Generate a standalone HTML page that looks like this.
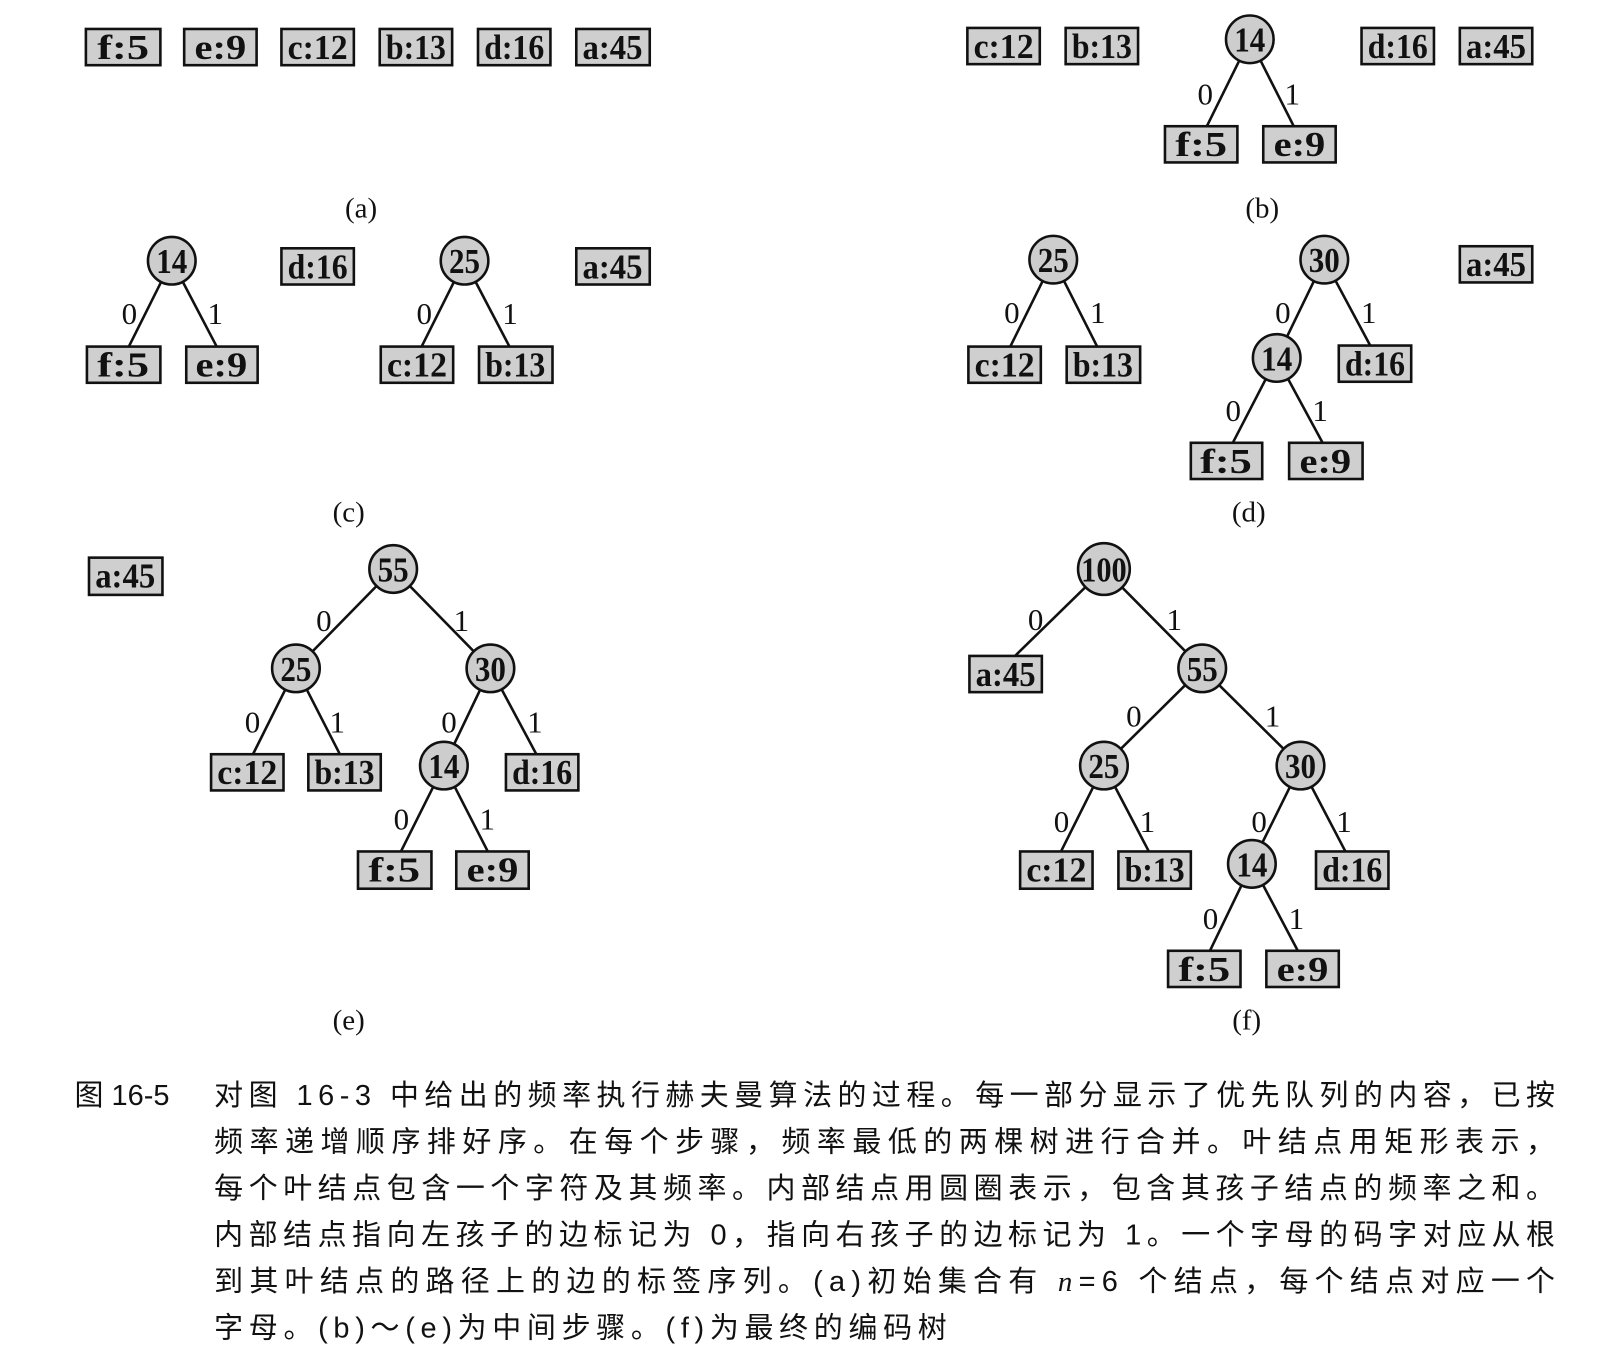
<!DOCTYPE html>
<html><head><meta charset="utf-8"><style>
html,body{margin:0;padding:0;background:#fff;}
svg{display:block;}
.b{fill:#cfcfcf;stroke:#111;stroke-width:2.5;}
.c{fill:#cdcdcd;stroke:#111;stroke-width:2.5;}
.t{font-family:"Liberation Serif",serif;font-size:34px;font-weight:bold;fill:#111;text-anchor:middle;}
.l{font-family:"Liberation Serif",serif;font-size:30px;fill:#111;text-anchor:middle;}
.s{font-family:"Liberation Serif","Noto Serif CJK SC",serif;font-size:28px;fill:#111;text-anchor:middle;}
.e{stroke:#111;stroke-width:2.5;}
.cap{font-family:"Liberation Sans","Noto Sans CJK SC",sans-serif;font-size:28px;fill:#111;}
</style></head><body>
<svg width="1614" height="1358" viewBox="0 0 1560 1312.6" xmlns="http://www.w3.org/2000/svg">
<!-- (a) -->
<rect class="b" x="83" y="28" width="72" height="35"/><text class="t" x="119" y="57" textLength="50" lengthAdjust="spacingAndGlyphs">f:5</text>
<rect class="b" x="178" y="28" width="70" height="35"/><text class="t" x="213" y="57" textLength="50" lengthAdjust="spacingAndGlyphs">e:9</text>
<rect class="b" x="272" y="28" width="70" height="35"/><text class="t" x="307" y="57" textLength="58" lengthAdjust="spacingAndGlyphs">c:12</text>
<rect class="b" x="367" y="28" width="70" height="35"/><text class="t" x="402" y="57" textLength="58" lengthAdjust="spacingAndGlyphs">b:13</text>
<rect class="b" x="462" y="28" width="70" height="35"/><text class="t" x="497" y="57" textLength="58" lengthAdjust="spacingAndGlyphs">d:16</text>
<rect class="b" x="557" y="28" width="71" height="35"/><text class="t" x="592" y="57" textLength="58" lengthAdjust="spacingAndGlyphs">a:45</text>
<text class="s" x="349" y="210">(a)</text>

<!-- (b) -->
<rect class="b" x="935" y="27" width="70" height="35"/><text class="t" x="970" y="56" textLength="58" lengthAdjust="spacingAndGlyphs">c:12</text>
<rect class="b" x="1030" y="27" width="70" height="35"/><text class="t" x="1065" y="56" textLength="58" lengthAdjust="spacingAndGlyphs">b:13</text>
<rect class="b" x="1316" y="27" width="70" height="35"/><text class="t" x="1351" y="56" textLength="58" lengthAdjust="spacingAndGlyphs">d:16</text>
<rect class="b" x="1411" y="27" width="70" height="35"/><text class="t" x="1446" y="56" textLength="58" lengthAdjust="spacingAndGlyphs">a:45</text>
<line class="e" x1="1208" y1="38" x2="1165" y2="125"/><line class="e" x1="1208" y1="38" x2="1252" y2="125"/>
<circle class="c" cx="1208" cy="38" r="23"/><text class="t" x="1208" y="50" textLength="30" lengthAdjust="spacingAndGlyphs">14</text>
<text class="l" x="1165" y="101">0</text><text class="l" x="1249" y="101">1</text>
<rect class="b" x="1126" y="122" width="70" height="35"/><text class="t" x="1161" y="151" textLength="50" lengthAdjust="spacingAndGlyphs">f:5</text>
<rect class="b" x="1221" y="122" width="70" height="35"/><text class="t" x="1256" y="151" textLength="50" lengthAdjust="spacingAndGlyphs">e:9</text>
<text class="s" x="1220" y="210">(b)</text>

<!-- (c) -->
<line class="e" x1="166" y1="252" x2="123" y2="338"/><line class="e" x1="166" y1="252" x2="211" y2="338"/>
<circle class="c" cx="166" cy="252" r="23"/><text class="t" x="166" y="264" textLength="30" lengthAdjust="spacingAndGlyphs">14</text>
<text class="l" x="125" y="313">0</text><text class="l" x="208" y="313">1</text>
<rect class="b" x="84" y="335" width="71" height="35"/><text class="t" x="119" y="364" textLength="50" lengthAdjust="spacingAndGlyphs">f:5</text>
<rect class="b" x="180" y="335" width="69" height="35"/><text class="t" x="214" y="364" textLength="50" lengthAdjust="spacingAndGlyphs">e:9</text>
<rect class="b" x="272" y="240" width="70" height="35"/><text class="t" x="307" y="269" textLength="58" lengthAdjust="spacingAndGlyphs">d:16</text>
<line class="e" x1="449" y1="252" x2="406" y2="338"/><line class="e" x1="449" y1="252" x2="494" y2="338"/>
<circle class="c" cx="449" cy="252" r="23"/><text class="t" x="449" y="264" textLength="30" lengthAdjust="spacingAndGlyphs">25</text>
<text class="l" x="410" y="313">0</text><text class="l" x="493" y="313">1</text>
<rect class="b" x="368" y="335" width="70" height="35"/><text class="t" x="403" y="364" textLength="58" lengthAdjust="spacingAndGlyphs">c:12</text>
<rect class="b" x="463" y="335" width="71" height="35"/><text class="t" x="498" y="364" textLength="58" lengthAdjust="spacingAndGlyphs">b:13</text>
<rect class="b" x="557" y="240" width="71" height="35"/><text class="t" x="592" y="269" textLength="58" lengthAdjust="spacingAndGlyphs">a:45</text>
<text class="s" x="337" y="504">(c)</text>

<!-- (d) -->
<line class="e" x1="1018" y1="251" x2="975" y2="338"/><line class="e" x1="1018" y1="251" x2="1062" y2="338"/>
<circle class="c" cx="1018" cy="251" r="23"/><text class="t" x="1018" y="263" textLength="30" lengthAdjust="spacingAndGlyphs">25</text>
<text class="l" x="978" y="312">0</text><text class="l" x="1061" y="312">1</text>
<rect class="b" x="936" y="335" width="70" height="35"/><text class="t" x="971" y="364" textLength="58" lengthAdjust="spacingAndGlyphs">c:12</text>
<rect class="b" x="1031" y="335" width="71" height="35"/><text class="t" x="1066" y="364" textLength="58" lengthAdjust="spacingAndGlyphs">b:13</text>
<line class="e" x1="1280" y1="251" x2="1234" y2="346"/><line class="e" x1="1280" y1="251" x2="1326" y2="337"/>
<line class="e" x1="1234" y1="346" x2="1190" y2="431"/><line class="e" x1="1234" y1="346" x2="1280" y2="431"/>
<circle class="c" cx="1280" cy="251" r="23"/><text class="t" x="1280" y="263" textLength="30" lengthAdjust="spacingAndGlyphs">30</text>
<text class="l" x="1240" y="312">0</text><text class="l" x="1323" y="312">1</text>
<circle class="c" cx="1234" cy="346" r="23"/><text class="t" x="1234" y="358" textLength="30" lengthAdjust="spacingAndGlyphs">14</text>
<text class="l" x="1192" y="407">0</text><text class="l" x="1276" y="407">1</text>
<rect class="b" x="1294" y="334" width="70" height="35"/><text class="t" x="1329" y="363" textLength="58" lengthAdjust="spacingAndGlyphs">d:16</text>
<rect class="b" x="1151" y="428" width="69" height="35"/><text class="t" x="1185" y="457" textLength="50" lengthAdjust="spacingAndGlyphs">f:5</text>
<rect class="b" x="1246" y="428" width="71" height="35"/><text class="t" x="1281" y="457" textLength="50" lengthAdjust="spacingAndGlyphs">e:9</text>
<rect class="b" x="1411" y="238" width="70" height="35"/><text class="t" x="1446" y="267" textLength="58" lengthAdjust="spacingAndGlyphs">a:45</text>
<text class="s" x="1207" y="504">(d)</text>

<!-- (e) -->
<rect class="b" x="86" y="539" width="71" height="36"/><text class="t" x="121" y="568" textLength="58" lengthAdjust="spacingAndGlyphs">a:45</text>
<line class="e" x1="380" y1="550" x2="286" y2="646"/><line class="e" x1="380" y1="550" x2="474" y2="646"/>
<line class="e" x1="286" y1="646" x2="243" y2="732"/><line class="e" x1="286" y1="646" x2="330" y2="732"/>
<line class="e" x1="474" y1="646" x2="429" y2="740"/><line class="e" x1="474" y1="646" x2="520" y2="732"/>
<line class="e" x1="429" y1="740" x2="386" y2="826"/><line class="e" x1="429" y1="740" x2="473" y2="826"/>
<circle class="c" cx="380" cy="550" r="23"/><text class="t" x="380" y="562" textLength="30" lengthAdjust="spacingAndGlyphs">55</text>
<text class="l" x="313" y="610">0</text><text class="l" x="446" y="610">1</text>
<circle class="c" cx="286" cy="646" r="23"/><text class="t" x="286" y="658" textLength="30" lengthAdjust="spacingAndGlyphs">25</text>
<circle class="c" cx="474" cy="646" r="23"/><text class="t" x="474" y="658" textLength="30" lengthAdjust="spacingAndGlyphs">30</text>
<text class="l" x="244" y="708">0</text><text class="l" x="326" y="708">1</text>
<text class="l" x="434" y="708">0</text><text class="l" x="517" y="708">1</text>
<rect class="b" x="204" y="729" width="70" height="35"/><text class="t" x="239" y="758" textLength="58" lengthAdjust="spacingAndGlyphs">c:12</text>
<rect class="b" x="298" y="729" width="70" height="35"/><text class="t" x="333" y="758" textLength="58" lengthAdjust="spacingAndGlyphs">b:13</text>
<circle class="c" cx="429" cy="740" r="23"/><text class="t" x="429" y="752" textLength="30" lengthAdjust="spacingAndGlyphs">14</text>
<rect class="b" x="489" y="729" width="70" height="35"/><text class="t" x="524" y="758" textLength="58" lengthAdjust="spacingAndGlyphs">d:16</text>
<text class="l" x="388" y="802">0</text><text class="l" x="471" y="802">1</text>
<rect class="b" x="346" y="823" width="71" height="36"/><text class="t" x="381" y="852" textLength="50" lengthAdjust="spacingAndGlyphs">f:5</text>
<rect class="b" x="441" y="823" width="70" height="36"/><text class="t" x="476" y="852" textLength="50" lengthAdjust="spacingAndGlyphs">e:9</text>
<text class="s" x="337" y="995">(e)</text>

<!-- (f) -->
<line class="e" x1="1067" y1="550" x2="978" y2="637"/><line class="e" x1="1067" y1="550" x2="1162" y2="646"/>
<line class="e" x1="1162" y1="646" x2="1067" y2="740"/><line class="e" x1="1162" y1="646" x2="1257" y2="740"/>
<line class="e" x1="1067" y1="740" x2="1024" y2="826"/><line class="e" x1="1067" y1="740" x2="1112" y2="826"/>
<line class="e" x1="1257" y1="740" x2="1210" y2="835"/><line class="e" x1="1257" y1="740" x2="1302" y2="826"/>
<line class="e" x1="1210" y1="835" x2="1168" y2="922"/><line class="e" x1="1210" y1="835" x2="1256" y2="922"/>
<circle class="c" cx="1067" cy="550" r="25"/><text class="t" x="1067" y="562" textLength="44" lengthAdjust="spacingAndGlyphs">100</text>
<text class="l" x="1001" y="609">0</text><text class="l" x="1135" y="609">1</text>
<rect class="b" x="937" y="634" width="70" height="35"/><text class="t" x="972" y="663" textLength="58" lengthAdjust="spacingAndGlyphs">a:45</text>
<circle class="c" cx="1162" cy="646" r="23"/><text class="t" x="1162" y="658" textLength="30" lengthAdjust="spacingAndGlyphs">55</text>
<text class="l" x="1096" y="702">0</text><text class="l" x="1230" y="702">1</text>
<circle class="c" cx="1067" cy="740" r="23"/><text class="t" x="1067" y="752" textLength="30" lengthAdjust="spacingAndGlyphs">25</text>
<circle class="c" cx="1257" cy="740" r="23"/><text class="t" x="1257" y="752" textLength="30" lengthAdjust="spacingAndGlyphs">30</text>
<text class="l" x="1026" y="804">0</text><text class="l" x="1109" y="804">1</text>
<text class="l" x="1217" y="804">0</text><text class="l" x="1299" y="804">1</text>
<rect class="b" x="986" y="823" width="70" height="36"/><text class="t" x="1021" y="852" textLength="58" lengthAdjust="spacingAndGlyphs">c:12</text>
<rect class="b" x="1081" y="823" width="70" height="36"/><text class="t" x="1116" y="852" textLength="58" lengthAdjust="spacingAndGlyphs">b:13</text>
<circle class="c" cx="1210" cy="835" r="23"/><text class="t" x="1210" y="847" textLength="30" lengthAdjust="spacingAndGlyphs">14</text>
<rect class="b" x="1272" y="823" width="70" height="36"/><text class="t" x="1307" y="852" textLength="58" lengthAdjust="spacingAndGlyphs">d:16</text>
<text class="l" x="1170" y="898">0</text><text class="l" x="1253" y="898">1</text>
<rect class="b" x="1129" y="919" width="70" height="35"/><text class="t" x="1164" y="948" textLength="50" lengthAdjust="spacingAndGlyphs">f:5</text>
<rect class="b" x="1224" y="919" width="70" height="35"/><text class="t" x="1259" y="948" textLength="50" lengthAdjust="spacingAndGlyphs">e:9</text>
<text class="s" x="1205" y="995">(f)</text>

<!-- caption -->
<text class="cap" x="72" y="1068">图 16-5</text>
<text class="cap" x="207" y="1068" textLength="1296" lengthAdjust="spacing">对图 16-3 中给出的频率执行赫夫曼算法的过程。每一部分显示了优先队列的内容，已按</text>
<text class="cap" x="207" y="1113" textLength="1296" lengthAdjust="spacing">频率递增顺序排好序。在每个步骤，频率最低的两棵树进行合并。叶结点用矩形表示，</text>
<text class="cap" x="207" y="1158" textLength="1296" lengthAdjust="spacing">每个叶结点包含一个字符及其频率。内部结点用圆圈表示，包含其孩子结点的频率之和。</text>
<text class="cap" x="207" y="1203" textLength="1296" lengthAdjust="spacing">内部结点指向左孩子的边标记为 0，指向右孩子的边标记为 1。一个字母的码字对应从根</text>
<text class="cap" x="207" y="1248" textLength="1296" lengthAdjust="spacing">到其叶结点的路径上的边的标签序列。(a)初始集合有 <tspan font-style="italic" font-family="Liberation Serif">n</tspan>=6 个结点，每个结点对应一个</text>
<text class="cap" x="207" y="1293" textLength="708" lengthAdjust="spacing">字母。(b)～(e)为中间步骤。(f)为最终的编码树</text>
</svg>
</body></html>
